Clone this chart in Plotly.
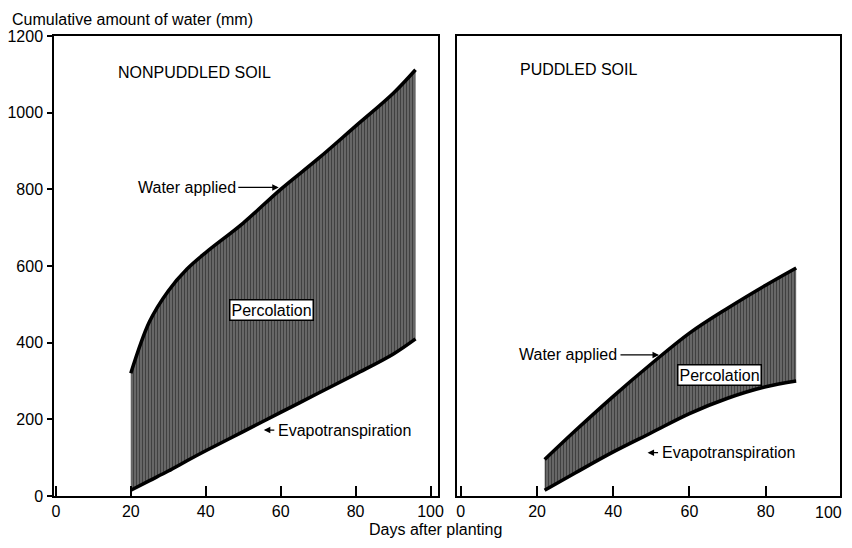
import plotly.graph_objects as go

# ---- data ----
days_np = [20, 25, 30, 35, 40, 50, 60, 70, 80, 90, 96]
water_np = [320, 455, 535, 592, 635, 712, 800, 880, 965, 1050, 1112]
et_np = [15, 40, 65, 92, 118, 168, 218, 268, 318, 370, 410]

days_p = [22, 30, 40, 50, 60, 70, 80, 88]
water_p = [95, 170, 260, 345, 425, 490, 550, 595]
et_p = [15, 60, 115, 165, 215, 255, 285, 300]

x_ticks = [0, 20, 40, 60, 80, 100]
x_ticks_right = [0, 20, 40, 60, 80]
y_ticks = [0, 200, 400, 600, 800, 1000, 1200]

# page body has an 8px margin: figure drawn at (8, 8)
W, H, OFF = 836, 532, 8
def fx(p):
    return (p - OFF) / W
def fy(p):
    return 1 - (p - OFF) / H

FONT = "Liberation Sans, Arial, sans-serif"
pattern = dict(shape="|", size=3, solidity=0.45, fgcolor="#111111", bgcolor="#6e6e6e")

fig = go.Figure()

for xa, ya, d, w, e in [("x", "y", days_np, water_np, et_np), ("x2", "y2", days_p, water_p, et_p)]:
    fig.add_trace(go.Scatter(x=d, y=e, mode="lines", line=dict(color="black", width=3.5, shape="spline"),
                             xaxis=xa, yaxis=ya, showlegend=False, hoverinfo="skip"))
    fig.add_trace(go.Scatter(x=d, y=w, mode="lines", line=dict(color="black", width=3.5, shape="spline"),
                             fill="tonexty", fillcolor="#555555", fillpattern=pattern,
                             xaxis=xa, yaxis=ya, showlegend=False, hoverinfo="skip"))

tickf = dict(family=FONT, size=16, color="black")
ax_common = dict(showline=True, linecolor="black", linewidth=1.5, mirror=True, showgrid=False,
                 zeroline=False, tickfont=tickf)

fig.update_layout(
    width=W, height=H, margin=dict(l=0, r=0, t=0, b=0, autoexpand=False),
    paper_bgcolor="white", plot_bgcolor="white",
    xaxis=dict(domain=[fx(54), fx(438)], range=[-0.5, 102], tickvals=x_ticks,
               ticks="inside", ticklen=10, tickwidth=1.5, tickcolor="black", **ax_common),
    yaxis=dict(domain=[fy(496), fy(36)], range=[0, 1200], tickvals=y_ticks,
               ticks="outside", ticklen=5, tickwidth=1.5, tickcolor="black",
               ticklabelstandoff=1, **ax_common),
    xaxis2=dict(domain=[fx(457), fx(840)], range=[-1, 99.5], tickvals=x_ticks_right, anchor="y2",
                ticks="inside", ticklen=10, tickwidth=1.5, tickcolor="black", **ax_common),
    yaxis2=dict(domain=[fy(496), fy(36)], range=[0, 1200], anchor="x2",
                showticklabels=False, ticks="", **ax_common),
)

tf = dict(family=FONT, size=16, color="black")
arrow = dict(showarrow=True, arrowhead=2, arrowsize=1, arrowwidth=1.3, arrowcolor="black", text="")
ann = [
    # titles
    dict(text="Cumulative amount of water (mm)", xref="paper", yref="paper", x=fx(10), y=fy(9),
         xanchor="left", yanchor="top", showarrow=False, font=tf),
    dict(text="Days after planting", xref="paper", yref="paper", x=fx(435), y=fy(540),
         xanchor="center", yanchor="bottom", showarrow=False, font=tf),
    # last tick label of the right panel (kept inside the page)
    dict(text="100", xref="paper", yref="y2", x=1, y=0, xanchor="right", yanchor="top",
         yshift=-6, showarrow=False, font=tickf),
    dict(text="NONPUDDLED SOIL", xref="x", yref="y", x=16, y=1105, xanchor="left",
         showarrow=False, font=tf),
    dict(text="PUDDLED SOIL", xref="x2", yref="y2", x=15, y=1112, xanchor="left",
         showarrow=False, font=tf),
    # left panel labels
    dict(text="Water applied", xref="x", yref="y", x=48.5, y=805, xanchor="right",
         showarrow=False, font=tf),
    dict(xref="x", yref="y", x=59.5, y=805, ax=-42, ay=0, **arrow),
    dict(text="Percolation", xref="x", yref="y", x=57.5, y=486, showarrow=False, font=tf,
         bgcolor="white", bordercolor="black", borderwidth=1.5, borderpad=1),
    dict(xref="x", yref="y", x=55.5, y=172, ax=12, ay=0, **arrow),
    dict(text="Evapotranspiration", xref="x", yref="y", x=58.7, y=172, xanchor="left",
         showarrow=False, font=tf),
    # right panel labels
    dict(text="Water applied", xref="x2", yref="y2", x=41.5, y=368, xanchor="right",
         showarrow=False, font=tf),
    dict(xref="x2", yref="y2", x=52, y=368, ax=-40, ay=0, **arrow),
    dict(text="Percolation", xref="x2", yref="y2", x=68, y=316, showarrow=False, font=tf,
         bgcolor="white", bordercolor="black", borderwidth=1.5, borderpad=1),
    dict(xref="x2", yref="y2", x=49, y=113, ax=12, ay=0, **arrow),
    dict(text="Evapotranspiration", xref="x2", yref="y2", x=52.2, y=113, xanchor="left",
         showarrow=False, font=tf),
]
fig.update_layout(annotations=ann)

fig.write_html("out.html")
